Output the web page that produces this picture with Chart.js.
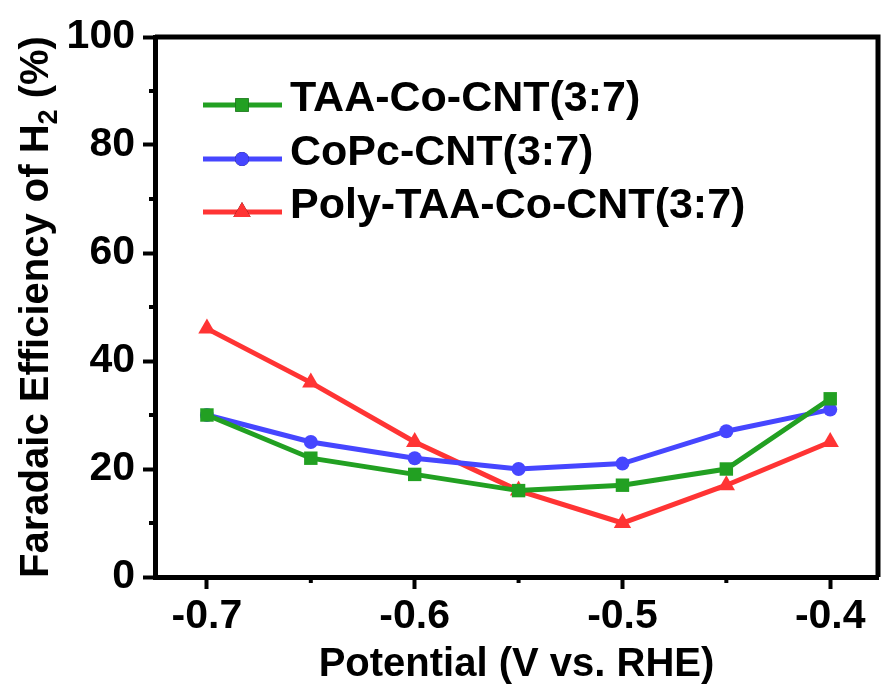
<!DOCTYPE html>
<html>
<head>
<meta charset="utf-8">
<script src="https://cdn.jsdelivr.net/npm/chart.js@4"></script>
<style>
  html, body { margin: 0; padding: 0; background: #fff; }
  #wrap { width: 881px; height: 698px; }
</style>
</head>
<body>
<div id="wrap"><canvas id="chart" width="881" height="698"></canvas></div>
<script>
const potentials = [-0.7, -0.65, -0.6, -0.55, -0.5, -0.45, -0.4];
const taaCoCnt = [30, 22, 19, 16, 17, 20, 33];
const coPcCnt = [30, 25, 22, 20, 21, 27, 31];
const polyTaaCoCnt = [46, 36, 25, 16, 10, 17, 25];

const xMajorTicks = [-0.7, -0.6, -0.5, -0.4];
const xMinorTicks = [-0.65, -0.55, -0.45];
const yMajorTicks = [0, 20, 40, 60, 80, 100];
const yMinorTicks = [10, 30, 50, 70, 90];

const seriesLabels = ['TAA-Co-CNT(3:7)', 'CoPc-CNT(3:7)', 'Poly-TAA-Co-CNT(3:7)'];
const seriesColors = ['#22a022', '#4646ff', '#ff3434'];

const FONT = '"Liberation Sans", Arial, sans-serif';

const toPoints = ys => potentials.map((x, i) => ({x, y: ys[i]}));

// frame on top/right, minor ticks, y title with subscript, legend
const decorPlugin = {
    id: 'decor',
    afterDraw(chart) {
        const {ctx, chartArea, scales} = chart;
        const {top, bottom, left, right} = chartArea;
        ctx.save();
        ctx.strokeStyle = '#000';
        ctx.lineWidth = 5;
        ctx.beginPath();
        ctx.moveTo(left, top);
        ctx.lineTo(right, top);
        ctx.lineTo(right, bottom);
        ctx.stroke();

        ctx.lineWidth = 4;
        for (const v of xMinorTicks) {
            const x = scales.x.getPixelForValue(v);
            ctx.beginPath();
            ctx.moveTo(x, bottom);
            ctx.lineTo(x, bottom + 6);
            ctx.stroke();
        }
        for (const v of yMinorTicks) {
            const y = scales.y.getPixelForValue(v);
            ctx.beginPath();
            ctx.moveTo(left, y);
            ctx.lineTo(left - 6, y);
            ctx.stroke();
        }

        // y axis title
        ctx.fillStyle = '#000';
        ctx.translate(48, (top + bottom) / 2);
        ctx.rotate(-Math.PI / 2);
        const big = 'bold 40px ' + FONT;
        const small = 'bold 27px ' + FONT;
        const parts = [['Faradaic Efficiency of H', big, 0], ['2', small, 9], [' (%)', big, 0]];
        let total = 0;
        for (const [t, f] of parts) { ctx.font = f; total += ctx.measureText(t).width; }
        let cx = -total / 2;
        ctx.textBaseline = 'alphabetic';
        for (const [t, f, dy] of parts) {
            ctx.font = f;
            ctx.fillText(t, cx, dy);
            cx += ctx.measureText(t).width;
        }
        ctx.restore();

        // legend
        ctx.save();
        const rows = [105, 159, 212];
        chart.data.datasets.forEach((ds, i) => {
            const y = rows[i];
            ctx.strokeStyle = ds.borderColor;
            ctx.lineWidth = 5;
            ctx.beginPath();
            ctx.moveTo(203, y);
            ctx.lineTo(282, y);
            ctx.stroke();
            Chart.helpers.drawPoint(ctx, {
                pointStyle: ds.pointStyle,
                radius: ds.pointRadius,
                borderWidth: 0
            }, 242, y);
            ctx.fillStyle = ds.borderColor;
            ctx.fill();
            ctx.fillStyle = '#000';
            ctx.font = 'bold 43px ' + FONT;
            ctx.textBaseline = 'middle';
            ctx.textAlign = 'left';
            ctx.fillText(ds.label, 290, y - 6);
        });
        ctx.restore();
    }
};

const makeDataset = (label, ys, color, style, radius) => ({
    label,
    data: toPoints(ys),
    borderColor: color,
    backgroundColor: color,
    borderWidth: 5,
    pointStyle: style,
    pointRadius: radius,
    pointBorderWidth: 0,
    pointBackgroundColor: color,
    tension: 0,
    fill: false
});

const config = {
    type: 'line',
    data: {
        datasets: [
            makeDataset(seriesLabels[0], taaCoCnt, seriesColors[0], 'rect', 9.5),
            makeDataset(seriesLabels[1], coPcCnt, seriesColors[1], 'circle', 7),
            makeDataset(seriesLabels[2], polyTaaCoCnt, seriesColors[2], 'triangle', 10)
        ]
    },
    options: {
        responsive: false,
        animation: false,
        layout: {autoPadding: false, padding: {top: 37, right: 3, left: 0, bottom: 0}},
        plugins: {
            legend: {display: false},
            tooltip: {enabled: false}
        },
        scales: {
            x: {
                type: 'linear',
                min: -0.725,
                max: -0.377,
                bounds: 'data',
                afterBuildTicks: s => { s.ticks = xMajorTicks.map(v => ({value: v})); },
                afterFit: s => { s.height = 121; s.paddingLeft = 0; s.paddingRight = 0; },
                border: {display: true, width: 5, color: '#000'},
                grid: {display: true, drawOnChartArea: false, drawTicks: true, tickLength: 12, tickWidth: 4, tickColor: '#000'},
                ticks: {
                    color: '#000',
                    padding: 3,
                    maxRotation: 0,
                    font: {family: FONT, size: 41, weight: 'bold'},
                    callback: v => v.toFixed(1)
                },
                title: {
                    display: true,
                    text: 'Potential (V vs. RHE)',
                    color: '#000',
                    padding: {top: 0, bottom: 9},
                    font: {family: FONT, size: 40, weight: 'bold'}
                }
            },
            y: {
                min: 0,
                max: 100,
                afterBuildTicks: s => { s.ticks = yMajorTicks.map(v => ({value: v})); },
                afterFit: s => { s.width = 155; },
                border: {display: true, width: 5, color: '#000'},
                grid: {display: true, drawOnChartArea: false, drawTicks: true, tickLength: 12, tickWidth: 4, tickColor: '#000'},
                ticks: {
                    color: '#000',
                    padding: 8,
                    font: {family: FONT, size: 41, weight: 'bold'},
                    callback: v => String(v)
                }
            }
        }
    },
    plugins: [decorPlugin]
};

new Chart(document.getElementById('chart').getContext('2d'), config);
</script>
</body>
</html>
